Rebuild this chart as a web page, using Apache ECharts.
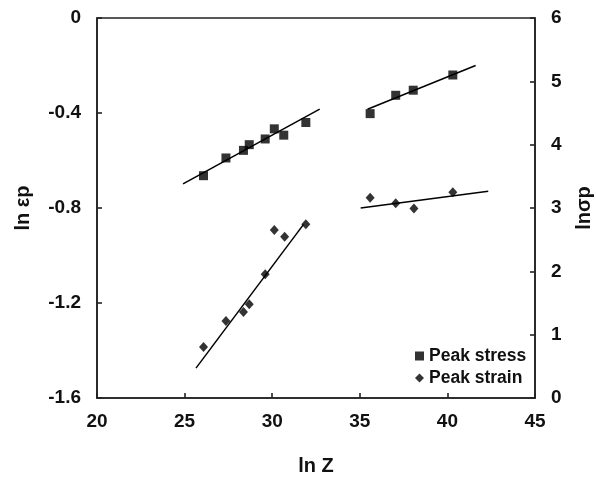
<!DOCTYPE html>
<html>
<head>
<meta charset="utf-8">
<script src="https://cdn.jsdelivr.net/npm/echarts@6/dist/echarts.min.js"></script>
<style>html,body{margin:0;padding:0;background:#fff}#c{width:596px;height:477px}</style>
</head>
<body>
<div id="c"></div>
<script>
// ln Z values
var lnZ = [26.08, 27.36, 28.36, 28.69, 29.60, 30.12, 30.66, 31.92, 35.59, 37.05, 38.05, 40.31];
// Peak stress ln(sigma_p), right axis
var stressVals = [3.51, 3.79, 3.91, 4.00, 4.09, 4.25, 4.15, 4.35, 4.49, 4.78, 4.86, 5.10];
// Peak strain ln(eps_p), left axis
var strainX = [26.08, 27.36, 28.36, 28.69, 29.60, 30.12, 30.71, 31.92, 35.59, 37.05, 38.09, 40.31];
var strainVals = [-1.385, -1.276, -1.238, -1.205, -1.079, -0.893, -0.921, -0.868, -0.757, -0.780, -0.802, -0.734];
// Fit line end points
var stressFit1X = [24.91, 32.71], stressFit1Y = [3.38, 4.56];
var stressFit2X = [35.44, 41.61], stressFit2Y = [4.56, 5.25];
var strainFit1X = [25.65, 31.79], strainFit1Y = [-1.474, -0.869];
var strainFit2X = [35.05, 42.33], strainFit2Y = [-0.800, -0.729];
// Axis ticks
var xTicks = [20, 25, 30, 35, 40, 45];
var leftTicks = [-1.6, -1.2, -0.8, -0.4, 0];
var rightTicks = [0, 1, 2, 3, 4, 5, 6];

function zip(a, b) { return a.map(function (v, i) { return [v, b[i]]; }); }

var FONT = '"Liberation Sans", Arial, sans-serif';
var axisLineStyle = { color: '#222', width: 1.6 };
var labelStyle = { color: '#111', fontSize: 19, fontWeight: 'bold', fontFamily: FONT };
var nameStyle = { color: '#111', fontSize: 20, fontWeight: 'bold', fontFamily: FONT };

var chart = echarts.init(document.getElementById('c'), null, { renderer: 'canvas' });
chart.setOption({
  animation: false,
  backgroundColor: '#fff',
  grid: { left: 97, top: 18, right: 61, bottom: 79, outerBoundsMode: 'none', containLabel: false, show: true, borderColor: '#222', borderWidth: 1.6, backgroundColor: 'transparent' },
  legend: {
    data: [{ name: 'Peak stress', icon: 'rect' }, { name: 'Peak strain', icon: 'diamond' }],
    orient: 'vertical', left: 410, top: 342,
    itemWidth: 9, itemHeight: 9, itemGap: 4,
    textStyle: { color: '#111', fontSize: 17.5, fontWeight: 'bold', fontFamily: FONT }
  },
  xAxis: {
    type: 'value', min: xTicks[0], max: xTicks[xTicks.length - 1], interval: 5,
    name: 'ln Z', nameLocation: 'middle', nameGap: 58, nameTextStyle: nameStyle,
    axisLine: { show: true, onZero: false, lineStyle: axisLineStyle },
    axisTick: { show: true, inside: true, length: 5, lineStyle: axisLineStyle },
    axisLabel: Object.assign({ margin: 14 }, labelStyle),
    splitLine: { show: false }
  },
  yAxis: [{
    type: 'value', min: leftTicks[0], max: leftTicks[leftTicks.length - 1], interval: 0.4,
    name: 'ln εp', nameLocation: 'middle', nameGap: 64, nameRotate: 90, nameTextStyle: nameStyle,
    axisLine: { show: true, onZero: false, lineStyle: axisLineStyle },
    axisTick: { show: true, inside: true, length: 5, lineStyle: axisLineStyle },
    axisLabel: Object.assign({ margin: 16, formatter: function (v) { return Math.abs(v) < 1e-9 ? '0' : v.toFixed(1); } }, labelStyle),
    splitLine: { show: false }
  }, {
    type: 'value', position: 'right', min: rightTicks[0], max: rightTicks[rightTicks.length - 1], interval: 1,
    name: 'lnσp', nameLocation: 'middle', nameGap: 39, nameRotate: 90, nameTextStyle: nameStyle,
    axisLine: { show: true, onZero: false, lineStyle: axisLineStyle },
    axisTick: { show: true, inside: true, length: 5, lineStyle: axisLineStyle },
    axisLabel: Object.assign({ margin: 16 }, labelStyle),
    splitLine: { show: false }
  }],
  series: [
    { name: 'Peak stress', type: 'scatter', yAxisIndex: 1, symbol: 'rect', symbolSize: 9, itemStyle: { color: '#000' }, data: zip(lnZ, stressVals), z: 5 },
    { name: 'Peak strain', type: 'scatter', yAxisIndex: 0, symbol: 'diamond', symbolSize: [9, 10], itemStyle: { color: '#000' }, data: zip(strainX, strainVals), z: 5 },
    { name: 'fit1', type: 'line', yAxisIndex: 1, symbol: 'none', lineStyle: { color: '#000', width: 1.5 }, data: zip(stressFit1X, stressFit1Y), silent: true },
    { name: 'fit2', type: 'line', yAxisIndex: 1, symbol: 'none', lineStyle: { color: '#000', width: 1.5 }, data: zip(stressFit2X, stressFit2Y), silent: true },
    { name: 'fit3', type: 'line', yAxisIndex: 0, symbol: 'none', lineStyle: { color: '#000', width: 1.5 }, data: zip(strainFit1X, strainFit1Y), silent: true },
    { name: 'fit4', type: 'line', yAxisIndex: 0, symbol: 'none', lineStyle: { color: '#000', width: 1.5 }, data: zip(strainFit2X, strainFit2Y), silent: true }
  ]
});
</script>
</body>
</html>
